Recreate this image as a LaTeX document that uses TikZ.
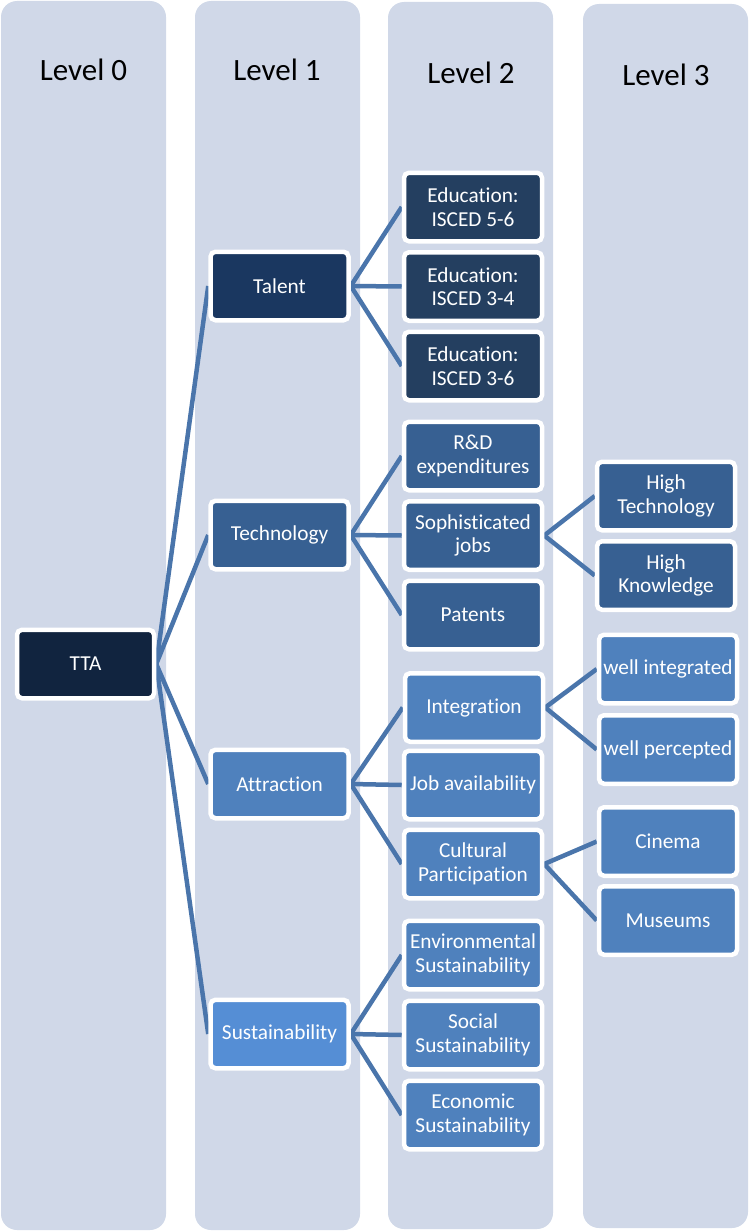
\documentclass[tikz,border=0pt]{standalone}
\usepackage{fontspec}
\setmainfont[Ligatures={NoCommon,NoContextual}]{Carlito}
\definecolor{colbg}{HTML}{D0D8E8}
\definecolor{cz}{HTML}{11243F}
\definecolor{ctal}{HTML}{1A3760}
\definecolor{cedu}{HTML}{243F60}
\definecolor{ctech}{HTML}{376092}
\definecolor{cattr}{HTML}{4F81BD}
\definecolor{csust}{HTML}{558ED5}
\definecolor{cconn}{HTML}{4A75AB}
\pgfdeclarelayer{bg}
\pgfdeclarelayer{lines}
\pgfsetlayers{bg,lines,main}
\tikzset{
  col/.style={fill=colbg, rounded corners=16pt},
  head/.style={text=black, font=\fontsize{31}{36}\selectfont, inner sep=0pt},
  box/.style={rectangle, rounded corners=5pt, draw=white, line width=4.5pt,
    minimum width=138pt, minimum height=68.5pt, inner sep=0pt, text=white,
    align=center, font=\fontsize{21.3}{23.5}\selectfont},
  conn/.style={draw=cconn, line width=4.5pt},
}
\begin{document}
\begin{tikzpicture}[x=1pt,y=-1pt]
\useasboundingbox (0,0) rectangle (749,1231);
\begin{pgfonlayer}{bg}
\fill[col] (1,1) rectangle (166,1230);
\fill[col] (195,1) rectangle (360,1230);
\fill[col] (388,2) rectangle (553,1229);
\fill[col] (583,4) rectangle (748,1228);
\end{pgfonlayer}
\node[head] (h0) at (83.5,70) {Level 0};
\node[head] (h1) at (277,70) {Level 1};
\node[head] (h2) at (471,73) {Level 2};
\node[head] (h3) at (666,75) {Level 3};
% level 0
\node[box, fill=cz, minimum width=137pt] (tta) at (85.5,664) {TTA};
% level 1
\node[box, fill=ctal] (talent) at (279.5,286) {Talent};
\node[box, fill=ctech] (tech) at (279.5,535) {Technology};
\node[box, fill=cattr] (attr) at (279.5,784) {Attraction};
\node[box, fill=csust] (sust) at (279.5,1034) {Sustainability};
% level 2
\node[box, fill=cedu] (edu56) at (473,207) {Education:\\ISCED 5-6};
\node[box, fill=cedu] (edu34) at (473,286.5) {Education:\\ISCED 3-4};
\node[box, fill=cedu] (edu36) at (473,366) {Education:\\ISCED 3-6};
\node[box, fill=ctech] (rd) at (473,456) {R\&D\\expenditures};
\node[box, fill=ctech] (soph) at (473,535.5) {Sophisticated\\jobs};
\node[box, fill=ctech] (pat) at (473,615) {Patents};
\node[box, fill=cattr] (integ) at (474,707.5) {Integration};
\node[box, fill=cattr] (jobav) at (473,785) {Job availability};
\node[box, fill=cattr] (cult) at (473,864) {Cultural\\Participation};
\node[box, fill=cattr] (env) at (473,955) {Environmental\\Sustainability};
\node[box, fill=cattr] (soc) at (473,1035) {Social\\Sustainability};
\node[box, fill=cattr] (eco) at (473,1115) {Economic\\Sustainability};
% level 3
\node[box, fill=ctech] (hitech) at (666,496) {High\\Technology};
\node[box, fill=ctech] (hiknow) at (666,575.5) {High\\Knowledge};
\node[box, fill=cattr] (wint) at (668,669) {well integrated};
\node[box, fill=cattr] (wperc) at (668,749.5) {well percepted};
\node[box, fill=cattr] (cin) at (668,841.5) {Cinema};
\node[box, fill=cattr] (mus) at (668,920.5) {Museums};
\begin{pgfonlayer}{lines}
\foreach \c in {talent,tech,attr,sust} \draw[conn] (tta.east) -- (\c.west);
\foreach \c in {edu56,edu34,edu36} \draw[conn] (talent.east) -- (\c.west);
\foreach \c in {rd,soph,pat} \draw[conn] (tech.east) -- (\c.west);
\foreach \c in {integ,jobav,cult} \draw[conn] (attr.east) -- (\c.west);
\foreach \c in {env,soc,eco} \draw[conn] (sust.east) -- (\c.west);
\foreach \c in {hitech,hiknow} \draw[conn] (soph.east) -- (\c.west);
\foreach \c in {wint,wperc} \draw[conn] (integ.east) -- (\c.west);
\foreach \c in {cin,mus} \draw[conn] (cult.east) -- (\c.west);
\end{pgfonlayer}
\end{tikzpicture}
\end{document}
